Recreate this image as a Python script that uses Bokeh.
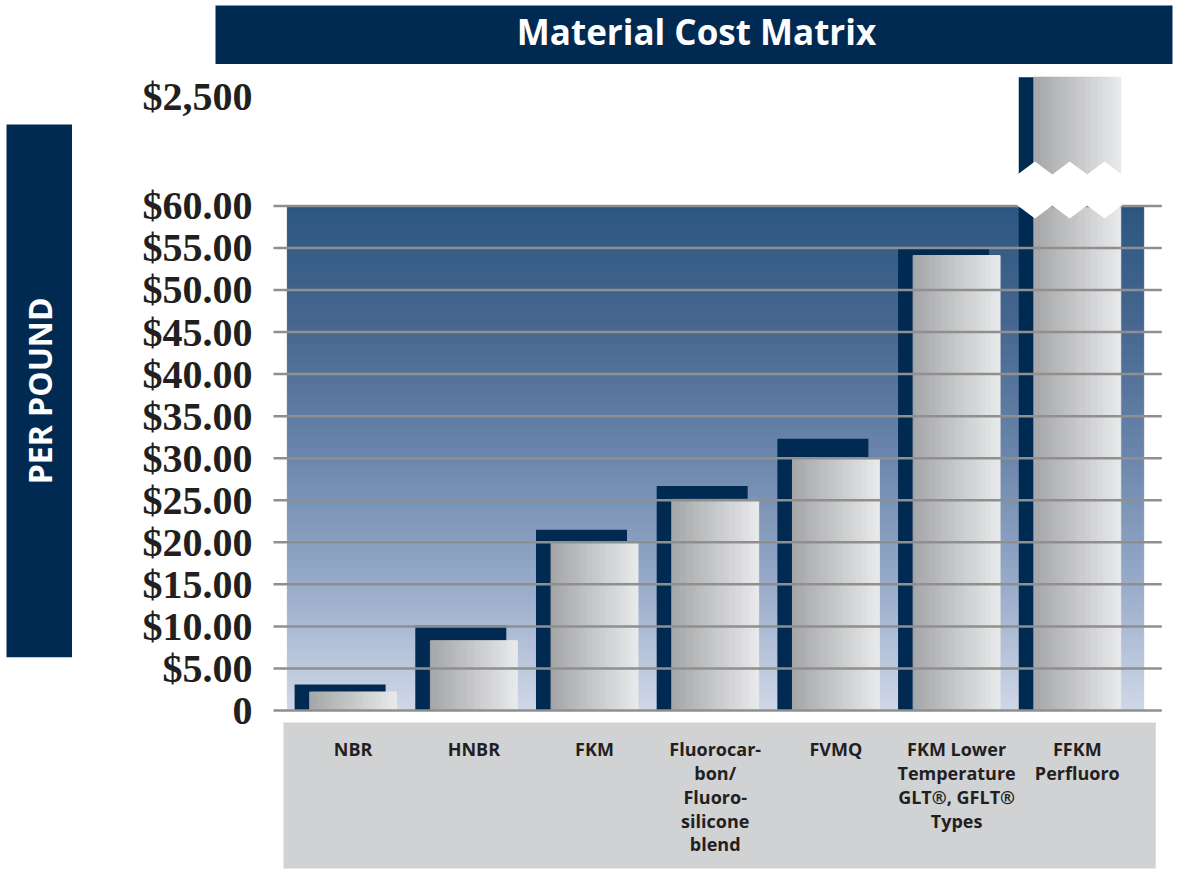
import numpy as np
from bokeh.plotting import figure
from bokeh.models import Range1d, FixedTicker
from bokeh.layouts import column, row
from bokeh.core.properties import value
from bokeh.embed import file_html
from bokeh.resources import INLINE

# ---------------- data ----------------
TITLE = "Material Cost Matrix"
Y_TITLE = "PER POUND"
CATEGORIES = [
    "NBR",
    "HNBR",
    "FKM",
    "Fluorocar-\nbon/\nFluoro-\nsilicone\nblend",
    "FVMQ",
    "FKM Lower\nTemperature\nGLT®, GFLT®\nTypes",
    "FFKM\nPerfluoro",
]
COST = [2.2, 8.3, 20.0, 25.1, 29.9, 54.1, 2500]      # front (grey) bars
SHADOW = [3.1, 10.1, 21.5, 26.7, 32.3, 55.0, 2500]   # navy back bars
Y_TICKS = [0, 5, 10, 15, 20, 25, 30, 35, 40, 45, 50, 55, 60]
Y_TICK_LABELS = ["0", "$5.00", "$10.00", "$15.00", "$20.00", "$25.00", "$30.00",
                 "$35.00", "$40.00", "$45.00", "$50.00", "$55.00", "$60.00"]
BREAK_VALUE = 2500
BREAK_LABEL = "$2,500"

# ---------------- style ----------------
NAVY = "#012a53"
AXIS_MAX = 60
BREAK_POS = 73.0          # axis position of the $2,500 tick above the break
FRONT_W = 0.72
NAVY_W = 0.754
NAVY_OFF = -0.108
FONT_SANS = "Open Sans"
FONT_SERIF = "Liberation Serif"


def to_axis(v):
    return v if v <= AXIS_MAX else BREAK_POS + 2.3


def lerp_color(stops, t):
    ts = [s[0] for s in stops]
    for k in range(len(stops) - 1):
        if t <= ts[k + 1] or k == len(stops) - 2:
            a, b = stops[k], stops[k + 1]
            f = (t - a[0]) / (b[0] - a[0])
            f = min(max(f, 0), 1)
            c = [int(round(a[1][m] + (b[1][m] - a[1][m]) * f)) for m in range(3)]
            return "#%02x%02x%02x" % tuple(c)


def bare(fig):
    fig.outline_line_color = None
    fig.grid.visible = False
    return fig


n = len(CATEGORIES)
xs = list(range(n))

# ---------------- title figure ----------------
tf = bare(figure(width=1177, height=64, x_range=Range1d(0, 1177), y_range=Range1d(0, 64),
                 title=None, x_axis_location=None, y_axis_location=None,
                 toolbar_location=None, output_backend="svg", min_border=0,
                 min_border_left=0, min_border_right=0, min_border_top=0,
                 min_border_bottom=0))
tf.quad(left=215, right=1172, bottom=0, top=59, fill_color=NAVY, line_color=None)
tf.text(x=[696], y=[33], text=[TITLE], text_color="white", text_font=value(FONT_SANS),
        text_font_style="bold", text_font_size="35px", text_align="center",
        text_baseline="middle")

# ---------------- left banner figure ----------------
lf = bare(figure(width=72, height=812, x_range=Range1d(0, 72), y_range=Range1d(0, 812),
                 title=None, x_axis_location=None, y_axis_location=None,
                 toolbar_location=None, output_backend="svg", min_border=0,
                 min_border_left=0, min_border_right=0, min_border_top=0,
                 min_border_bottom=0))
lf.quad(left=6, right=72, bottom=215, top=757, fill_color=NAVY, line_color=None)
lf.text(x=[39], y=[486], text=[Y_TITLE], angle=np.pi / 2, text_color="white",
        text_font=value(FONT_SANS), text_font_style="bold", text_font_size="32px",
        text_align="center", text_baseline="middle")

# ---------------- main figure ----------------
p = bare(figure(width=1105, height=812, x_range=Range1d(-0.751, 6.764),
                y_range=Range1d(-18.79, 76.1), title=None, x_axis_location=None,
                toolbar_location=None, output_backend="svg",
                min_border_left=190, min_border_right=8, min_border_top=6,
                min_border_bottom=8))

# gradient plot background
bg_stops = [(0.0, (44, 86, 128)), (0.25, (72, 104, 145)), (0.5, (108, 135, 172)),
            (0.75, (152, 171, 201)), (1.0, (208, 216, 232))]
nb = 120
edges = np.linspace(0, AXIS_MAX, nb + 1)
bcol = [lerp_color(bg_stops, 1 - (edges[k] + edges[k + 1]) / 2 / AXIS_MAX) for k in range(nb)]
p.quad(left=-0.545, right=n - 1 + 0.55, bottom=edges[:-1], top=edges[1:],
       fill_color=bcol, line_color=bcol, line_width=1)

# navy back bars
p.vbar(x=[x + NAVY_OFF for x in xs], width=NAVY_W, bottom=0,
       top=[to_axis(v) for v in SHADOW], fill_color=NAVY, line_color=None)

# grey front bars with horizontal gradient
bar_stops = [(0.0, (166, 167, 169)), (1.0, (232, 233, 234))]
ns = 40
fl, fr, ft, fc = [], [], [], []
for x, v in zip(xs, COST):
    left = x - FRONT_W / 2
    for j in range(ns):
        fl.append(left + j * FRONT_W / ns)
        fr.append(left + (j + 1) * FRONT_W / ns)
        ft.append(to_axis(v))
        fc.append(lerp_color(bar_stops, j / (ns - 1)))
p.quad(left=fl, right=fr, bottom=0, top=ft, fill_color=fc, line_color=fc, line_width=1)

# grid lines on top of bars
p.segment(x0=-0.66, x1=n - 1 + 0.70, y0=Y_TICKS, y1=Y_TICKS,
          line_color="#8f8f8f", line_width=2.5)

# axis break (white zig-zag) over the tall bar
bi = [i for i, v in enumerate(COST) if v > AXIS_MAX][0]
bxl = bi + NAVY_OFF - NAVY_W / 2 - 0.01
bxr = bi + FRONT_W / 2 + 0.01
kx = [bxl + k * (bxr - bxl) / 6 for k in range(7)]
top_edge = [63.73 if k % 2 == 0 else 65.28 for k in range(7)]
bot_edge = [60.05 if k % 2 == 0 else 58.5 for k in range(7)]
p.patch(x=kx + kx[::-1], y=top_edge + bot_edge[::-1], fill_color="white", line_color=None)

# category label box
p.quad(left=-0.577, right=n - 1 + 0.65, bottom=-19.5, top=-1.43,
       fill_color="#d1d2d4", line_color=None)
p.text(x=xs, y=[-3.2] * n, text=CATEGORIES, text_color="#231f20",
       text_font=value(FONT_SANS), text_font_style="bold", text_font_size="18px",
       text_align="center", text_baseline="top", text_line_height=0.99)

# y axis
ticks = Y_TICKS + [BREAK_POS]
p.yaxis.ticker = FixedTicker(ticks=ticks)
overrides = {t: lab for t, lab in zip(Y_TICKS, Y_TICK_LABELS)}
overrides[BREAK_POS] = BREAK_LABEL
p.yaxis.major_label_overrides = overrides
p.yaxis.axis_line_color = None
p.yaxis.major_tick_line_color = None
p.yaxis.minor_tick_line_color = None
p.yaxis.major_tick_out = 0
p.yaxis.major_tick_in = 0
p.yaxis.major_label_standoff = 10
p.yaxis.major_label_text_font = FONT_SERIF
p.yaxis.major_label_text_font_style = "bold"
p.yaxis.major_label_text_font_size = "40px"
p.yaxis.major_label_text_color = "#231f20"

layout = column(tf, row(lf, p))
open("out.html", "w").write(file_html(layout, INLINE))
